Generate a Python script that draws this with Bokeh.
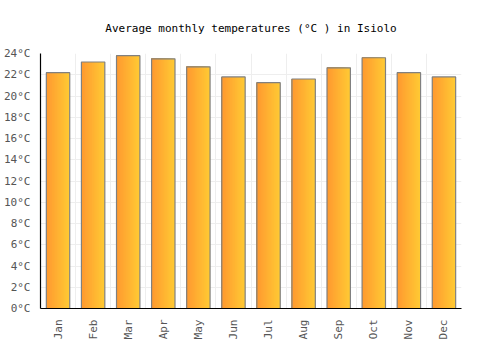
import numpy as np
from bokeh.plotting import figure
from bokeh.models import Range1d, FixedTicker, Title
from bokeh.embed import file_html
from bokeh.resources import INLINE

months = ["Jan", "Feb", "Mar", "Apr", "May", "Jun", "Jul", "Aug", "Sep", "Oct", "Nov", "Dec"]
temps = [22.2, 23.2, 23.8, 23.5, 22.75, 21.8, 21.25, 21.6, 22.65, 23.6, 22.2, 21.8]
y_ticks = list(range(0, 25, 2))

FONT = "DejaVu Sans Mono"

p = figure(width=500, height=350, output_backend="svg", toolbar_location=None,
           x_range=Range1d(0, len(months)), y_range=Range1d(0, 24),
           min_border_left=40, min_border_right=39, min_border_top=52, min_border_bottom=42)
p.title = Title(text="Average monthly temperatures (°C ) in Isiolo", align="center",
                text_font=FONT, text_font_size="11px", text_font_style="normal",
                text_color="#000000", standoff=38)
p.outline_line_color = None

xc = np.arange(len(months)) + 0.5
bar_w = 0.667
n = 20
c0 = np.array([255, 154, 48])
c1 = np.array([255, 202, 52])
for k in range(n - 1, -1, -1):
    t = k / (n - 1)
    col = tuple(int(round(v)) for v in (c0 * (1 - t) + c1 * t))
    w = (k + 1) * bar_w / n
    p.vbar(x=xc - bar_w / 2 + w / 2, top=temps, bottom=0, width=w,
           fill_color="#%02x%02x%02x" % col, line_color=None)
p.vbar(x=xc, top=temps, bottom=0, width=bar_w, fill_color=None,
       line_color="#808080", line_width=1.2)

p.xaxis.ticker = FixedTicker(ticks=list(xc))
p.xaxis.major_label_overrides = {float(x): m for x, m in zip(xc, months)}
p.xaxis.major_label_orientation = np.pi / 2
p.yaxis.ticker = FixedTicker(ticks=y_ticks)
p.yaxis.major_label_overrides = {t: f"{t}°C" for t in y_ticks}

for ax in (p.xaxis, p.yaxis):
    ax.major_tick_line_color = None
    ax.minor_tick_line_color = None
    ax.axis_line_color = "#000000"
    ax.axis_line_width = 1.2
    ax.major_label_text_font = FONT
    ax.major_label_text_font_size = "11px"
    ax.major_label_text_color = "#555555"
p.yaxis.major_label_standoff = 4
p.xaxis.major_label_standoff = 5

p.xgrid.ticker = FixedTicker(ticks=list(range(0, len(months) + 1)))
p.xgrid.grid_line_color = "#eeeeee"
p.ygrid.grid_line_color = "#eeeeee"

open("out.html", "w").write(file_html(p, INLINE))
